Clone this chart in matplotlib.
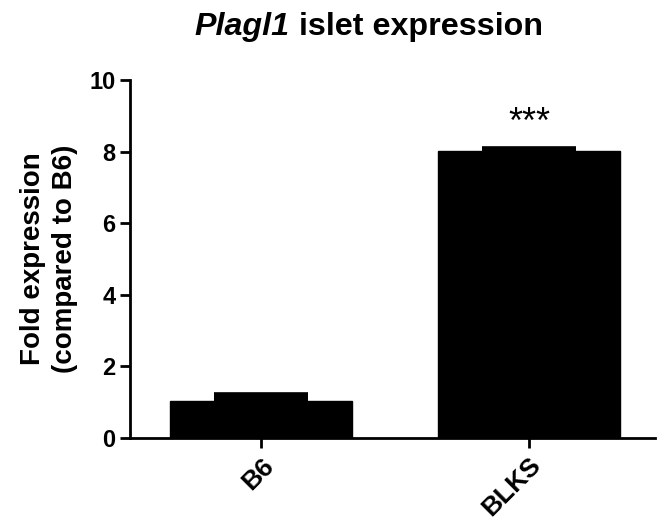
import numpy as np
import matplotlib
matplotlib.use("Agg")
import matplotlib.pyplot as plt

plt.rcParams['font.family'] = ['Liberation Sans', 'DejaVu Sans']
plt.rcParams['font.weight'] = 'bold'

# data
groups   = ['B6', 'BLKS']
fold     = [1.02, 8.02]
sem      = [0.15, 0.02]
signif   = ['', '***']

fig = plt.figure(figsize=(6.58, 5.27), dpi=100)
ax = fig.add_axes([0.1976, 0.169, 0.7974, 0.679])

x = np.arange(len(groups))
ax.bar(x, fold, width=0.68, color='black', edgecolor='black')
ax.errorbar(x, fold, yerr=[np.zeros(len(sem)), sem], fmt='none', ecolor='black',
            elinewidth=2, capsize=34, capthick=5.5)

for xi, lab in zip(x, signif):
    if lab:
        ax.text(xi, 8.78, lab, ha='center', va='center', fontsize=26, fontweight='normal')

ax.set_xlim(-0.49, 1.47)
ax.set_ylim(0, 10)
ax.set_yticks([0, 2, 4, 6, 8, 10])
ax.set_yticklabels([str(v) for v in [0, 2, 4, 6, 8, 10]], fontsize=17, fontweight='bold')
ax.set_xticks(x)
ax.set_xticklabels(groups, rotation=45, ha='right', rotation_mode='anchor',
                   fontsize=19, fontweight='bold')
ax.tick_params(axis='both', width=2, length=7, direction='out')
ax.tick_params(axis='x', pad=4)

for sp in ['top', 'right']:
    ax.spines[sp].set_visible(False)
for sp in ['left', 'bottom']:
    ax.spines[sp].set_linewidth(2)

ax.set_ylabel('Fold expression\n(compared to B6)', fontsize=20, fontweight='bold',
              labelpad=8, linespacing=1.3)

# title: italic gene name + upright rest
t1 = fig.text(0.296, 0.934, 'Plagl1', ha='left', va='baseline',
              fontsize=23.2, fontweight='bold', fontstyle='italic')
ax.annotate(' islet expression', xy=(1, 0), xycoords=t1, ha='left', va='bottom',
            fontsize=23.2, fontweight='bold', annotation_clip=False)

fig.savefig('out.png', dpi=100)
